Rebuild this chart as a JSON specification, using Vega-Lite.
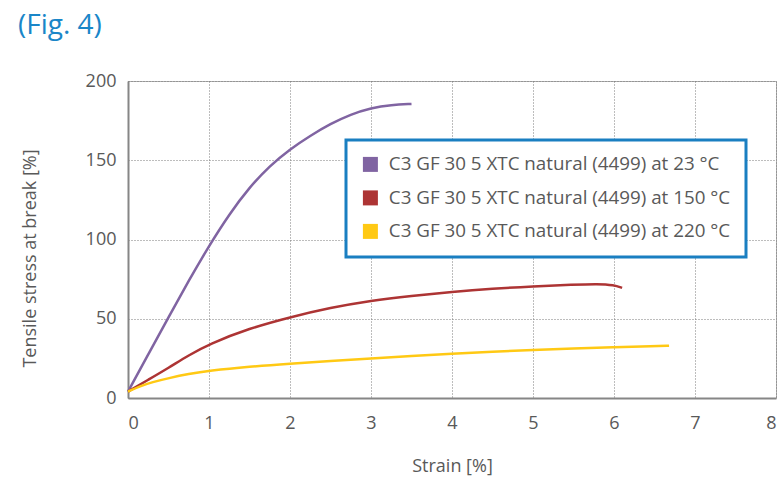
{
  "$schema": "https://vega.github.io/schema/vega-lite/v6.json",
  "autosize": "none",
  "width": 648,
  "height": 317,
  "padding": {"left": 128, "top": 81, "right": 4, "bottom": 79},
  "background": "white",
  "title": {
    "text": "(Fig. 4)",
    "anchor": "start",
    "frame": "group",
    "dx": -110,
    "offset": 32,
    "font": "Open Sans",
    "fontSize": 28,
    "fontWeight": "normal",
    "color": "#1a86c8"
  },
  "data": {
    "values": [
      {"s": "C3 GF 30 5 XTC natural (4499) at 23 °C", "x": 0, "y": 4},
      {"s": "C3 GF 30 5 XTC natural (4499) at 23 °C", "x": 0.25, "y": 27.5},
      {"s": "C3 GF 30 5 XTC natural (4499) at 23 °C", "x": 0.5, "y": 51},
      {"s": "C3 GF 30 5 XTC natural (4499) at 23 °C", "x": 0.75, "y": 74},
      {"s": "C3 GF 30 5 XTC natural (4499) at 23 °C", "x": 1, "y": 96},
      {"s": "C3 GF 30 5 XTC natural (4499) at 23 °C", "x": 1.25, "y": 116},
      {"s": "C3 GF 30 5 XTC natural (4499) at 23 °C", "x": 1.5, "y": 133},
      {"s": "C3 GF 30 5 XTC natural (4499) at 23 °C", "x": 1.75, "y": 146.5},
      {"s": "C3 GF 30 5 XTC natural (4499) at 23 °C", "x": 2, "y": 157},
      {"s": "C3 GF 30 5 XTC natural (4499) at 23 °C", "x": 2.25, "y": 165.5},
      {"s": "C3 GF 30 5 XTC natural (4499) at 23 °C", "x": 2.5, "y": 173},
      {"s": "C3 GF 30 5 XTC natural (4499) at 23 °C", "x": 2.75, "y": 179},
      {"s": "C3 GF 30 5 XTC natural (4499) at 23 °C", "x": 3, "y": 183},
      {"s": "C3 GF 30 5 XTC natural (4499) at 23 °C", "x": 3.25, "y": 185},
      {"s": "C3 GF 30 5 XTC natural (4499) at 23 °C", "x": 3.5, "y": 185.5},
      {"s": "C3 GF 30 5 XTC natural (4499) at 150 °C", "x": 0, "y": 4},
      {"s": "C3 GF 30 5 XTC natural (4499) at 150 °C", "x": 0.25, "y": 11.5},
      {"s": "C3 GF 30 5 XTC natural (4499) at 150 °C", "x": 0.5, "y": 19},
      {"s": "C3 GF 30 5 XTC natural (4499) at 150 °C", "x": 0.75, "y": 27},
      {"s": "C3 GF 30 5 XTC natural (4499) at 150 °C", "x": 1, "y": 34},
      {"s": "C3 GF 30 5 XTC natural (4499) at 150 °C", "x": 1.5, "y": 44},
      {"s": "C3 GF 30 5 XTC natural (4499) at 150 °C", "x": 2, "y": 51},
      {"s": "C3 GF 30 5 XTC natural (4499) at 150 °C", "x": 2.5, "y": 57},
      {"s": "C3 GF 30 5 XTC natural (4499) at 150 °C", "x": 3, "y": 61.5},
      {"s": "C3 GF 30 5 XTC natural (4499) at 150 °C", "x": 3.5, "y": 64.5},
      {"s": "C3 GF 30 5 XTC natural (4499) at 150 °C", "x": 4, "y": 67},
      {"s": "C3 GF 30 5 XTC natural (4499) at 150 °C", "x": 4.5, "y": 69},
      {"s": "C3 GF 30 5 XTC natural (4499) at 150 °C", "x": 5, "y": 70.5},
      {"s": "C3 GF 30 5 XTC natural (4499) at 150 °C", "x": 5.5, "y": 71.5},
      {"s": "C3 GF 30 5 XTC natural (4499) at 150 °C", "x": 5.8, "y": 72},
      {"s": "C3 GF 30 5 XTC natural (4499) at 150 °C", "x": 6, "y": 71.3},
      {"s": "C3 GF 30 5 XTC natural (4499) at 150 °C", "x": 6.1, "y": 69.5},
      {"s": "C3 GF 30 5 XTC natural (4499) at 220 °C", "x": 0, "y": 4},
      {"s": "C3 GF 30 5 XTC natural (4499) at 220 °C", "x": 0.15, "y": 7.5},
      {"s": "C3 GF 30 5 XTC natural (4499) at 220 °C", "x": 0.3, "y": 10},
      {"s": "C3 GF 30 5 XTC natural (4499) at 220 °C", "x": 0.5, "y": 12.5},
      {"s": "C3 GF 30 5 XTC natural (4499) at 220 °C", "x": 0.75, "y": 15.2},
      {"s": "C3 GF 30 5 XTC natural (4499) at 220 °C", "x": 1, "y": 17.2},
      {"s": "C3 GF 30 5 XTC natural (4499) at 220 °C", "x": 1.5, "y": 19.8},
      {"s": "C3 GF 30 5 XTC natural (4499) at 220 °C", "x": 2, "y": 21.7},
      {"s": "C3 GF 30 5 XTC natural (4499) at 220 °C", "x": 2.5, "y": 23.4},
      {"s": "C3 GF 30 5 XTC natural (4499) at 220 °C", "x": 3, "y": 25},
      {"s": "C3 GF 30 5 XTC natural (4499) at 220 °C", "x": 3.5, "y": 26.5},
      {"s": "C3 GF 30 5 XTC natural (4499) at 220 °C", "x": 4, "y": 28},
      {"s": "C3 GF 30 5 XTC natural (4499) at 220 °C", "x": 4.5, "y": 29.2},
      {"s": "C3 GF 30 5 XTC natural (4499) at 220 °C", "x": 5, "y": 30.3},
      {"s": "C3 GF 30 5 XTC natural (4499) at 220 °C", "x": 5.5, "y": 31.2},
      {"s": "C3 GF 30 5 XTC natural (4499) at 220 °C", "x": 6, "y": 32},
      {"s": "C3 GF 30 5 XTC natural (4499) at 220 °C", "x": 6.5, "y": 32.8},
      {"s": "C3 GF 30 5 XTC natural (4499) at 220 °C", "x": 6.68, "y": 33}
    ]
  },
  "mark": {"type": "line", "interpolate": "basis", "strokeWidth": 2.5},
  "encoding": {
    "x": {
      "field": "x", "type": "quantitative",
      "scale": {"domain": [0, 8], "nice": false},
      "axis": {
        "title": "Strain [%]", "values": [0,1,2,3,4,5,6,7,8], "format": "d",
        "titlePadding": 25, "labelPadding": 16
      }
    },
    "y": {
      "field": "y", "type": "quantitative",
      "scale": {"domain": [0, 200], "nice": false},
      "axis": {
        "title": "Tensile stress at break [%]", "values": [0,50,100,150,200],
        "labelPadding": 12,
        "titleX": -98, "titleY": 177, "titleAngle": -90, "titleBaseline": "middle", "titleAlign": "center"
      }
    },
    "color": {
      "field": "s", "type": "nominal",
      "scale": {
        "domain": ["C3 GF 30 5 XTC natural (4499) at 23 °C", "C3 GF 30 5 XTC natural (4499) at 150 °C", "C3 GF 30 5 XTC natural (4499) at 220 °C"],
        "range": ["#8064a2", "#ad3434", "#ffc914"]
      },
      "legend": {
        "title": null,
        "orient": "none",
        "legendX": 218,
        "legendY": 59,
        "symbolType": "square",
        "symbolSize": 225,
        "symbolOpacity": 1,
        "labelFontSize": 18.8,
        "labelFont": "Open Sans",
        "labelColor": "#595959",
        "labelOffset": 9,
        "labelLimit": 600,
        "rowPadding": 13.5,
        "padding": 15,
        "strokeColor": "#1a7fc1",
        "fillColor": "white",
        "encode": {
          "symbols": {
            "update": {
              "fill": {"scale": "color", "field": "value"},
              "stroke": {"value": "transparent"},
              "strokeWidth": {"value": 0}
            }
          }
        }
      }
    }
  },
  "config": {
    "view": {"stroke": "#b0b0b0", "strokeWidth": 1},
    "legend": {"strokeWidth": 3},
    "axis": {
      "labelFont": "Open Sans",
      "labelFontSize": 18,
      "labelColor": "#595959",
      "titleFont": "Open Sans",
      "titleFontSize": 18,
      "titleFontWeight": "normal",
      "titleColor": "#595959",
      "domainColor": "#868686",
      "domainWidth": 2,
      "ticks": false,
      "grid": true,
      "gridColor": "#7a7a7a",
      "gridDash": [1, 2],
      "gridWidth": 1
    }
  }
}
